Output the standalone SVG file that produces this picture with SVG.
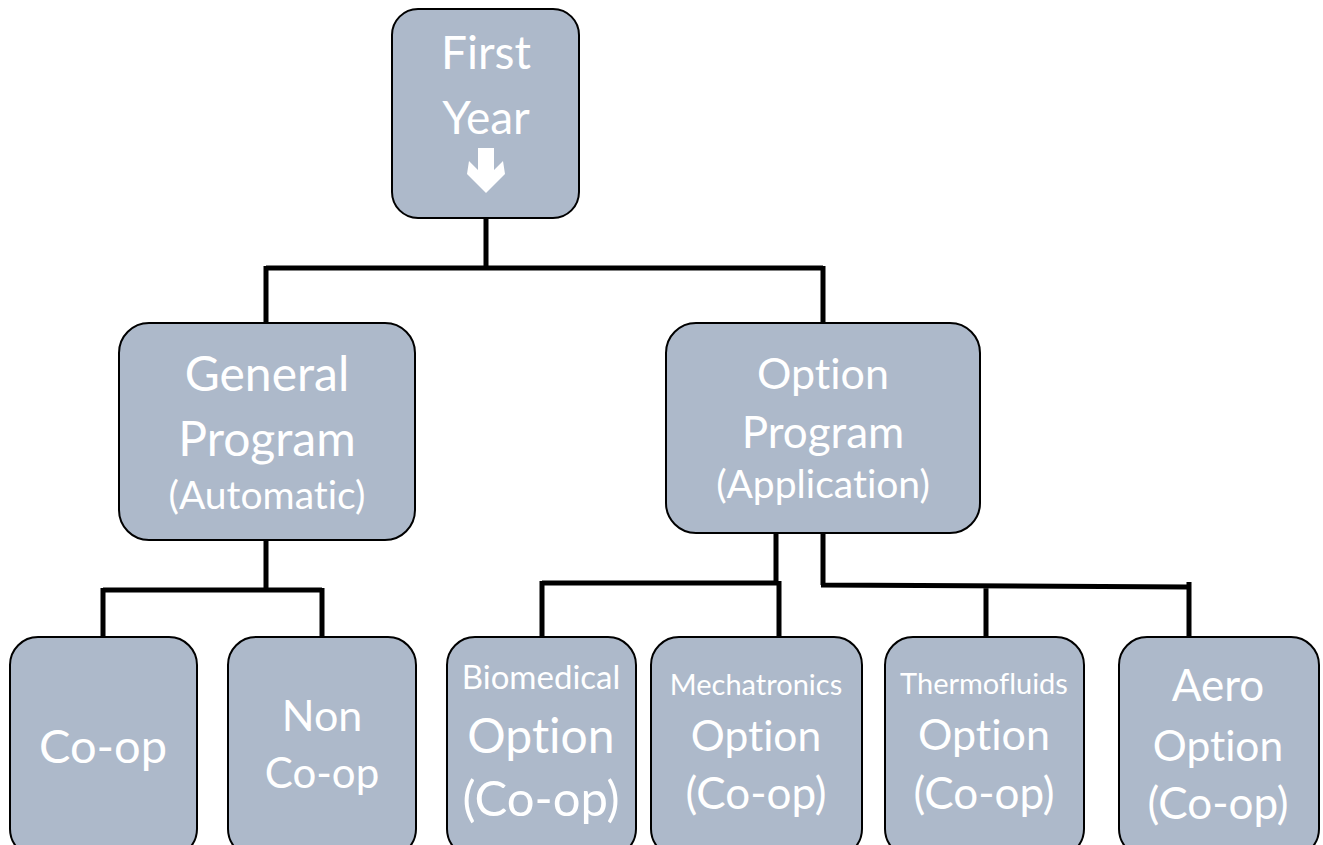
<svg xmlns="http://www.w3.org/2000/svg" width="1323" height="845" viewBox="0 0 1323 845">
<style>
.box{fill:#adb9ca;stroke:#000;stroke-width:2}
.t{fill:#fff;font-family:Lato,"Open Sans",sans-serif;text-anchor:middle;font-variant-ligatures:none}
.c{fill:none;stroke:#000;stroke-width:5}
</style>
<rect width="1323" height="845" fill="#fff"/>
<g id="connectors">
<path class="c" d="M486 218 V268 M266 268 H823 M266 266 V323 M823 266 V323"/>
<path class="c" d="M266 540 V590 M103 590 H322 M103 588 V638 M322 588 V638"/>
<path class="c" d="M776 533 V585 M542 583 H778 M542 581 V637 M779 581 V637"/>
<path class="c" d="M823 533 V585 M821 585 L1188 587 M986 585 V637 M1189 582 V637"/>
</g>
<g id="first-year">
<rect class="box" x="392" y="9" width="187" height="209" rx="26"/>
<text class="t" x="486" y="69" font-size="46">First</text>
<text class="t" x="486" y="134" font-size="46">Year</text>
<polygon fill="#fff" points="478,148 494,148 494,170 503,161 505,174 486,193 467,174 469,161 478,170"/>
</g>
<g id="general">
<rect class="box" x="119" y="323" width="296" height="217" rx="30"/>
<text class="t" x="267" y="391" font-size="48">General</text>
<text class="t" x="267" y="456" font-size="48">Program</text>
<text class="t" x="267" y="509" font-size="39">(Automatic)</text>
</g>
<g id="option">
<rect class="box" x="666" y="323" width="314" height="210" rx="30"/>
<text class="t" x="823" y="389" font-size="43">Option</text>
<text class="t" x="823" y="448" font-size="44">Program</text>
<text class="t" x="823" y="498" font-size="39">(Application)</text>
</g>
<g id="coop">
<rect class="box" x="10" y="637" width="187" height="220" rx="28"/>
<text class="t" x="103" y="763" font-size="47">Co-op</text>
</g>
<g id="noncoop">
<rect class="box" x="228" y="637" width="188" height="220" rx="28"/>
<text class="t" x="322" y="731" font-size="43">Non</text>
<text class="t" x="322" y="788" font-size="42">Co-op</text>
</g>
<g id="biomedical">
<rect class="box" x="447" y="637" width="189" height="220" rx="28"/>
<text class="t" x="541" y="689" font-size="33">Biomedical</text>
<text class="t" x="541" y="753" font-size="48">Option</text>
<text class="t" x="541" y="816" font-size="49">(Co-op)</text>
</g>
<g id="mechatronics">
<rect class="box" x="651" y="637" width="211" height="220" rx="28"/>
<text class="t" x="756" y="695" font-size="29">Mechatronics</text>
<text class="t" x="756" y="751" font-size="42.5">Option</text>
<text class="t" x="756" y="809" font-size="44">(Co-op)</text>
</g>
<g id="thermofluids">
<rect class="box" x="885" y="637" width="199" height="220" rx="28"/>
<text class="t" x="984" y="694" font-size="29">Thermofluids</text>
<text class="t" x="984" y="750" font-size="43">Option</text>
<text class="t" x="984" y="809" font-size="44">(Co-op)</text>
</g>
<g id="aero">
<rect class="box" x="1119" y="637" width="200" height="220" rx="28"/>
<text class="t" x="1218" y="701" font-size="44">Aero</text>
<text class="t" x="1218" y="761" font-size="42.5">Option</text>
<text class="t" x="1218" y="819" font-size="44">(Co-op)</text>
</g>
</svg>
